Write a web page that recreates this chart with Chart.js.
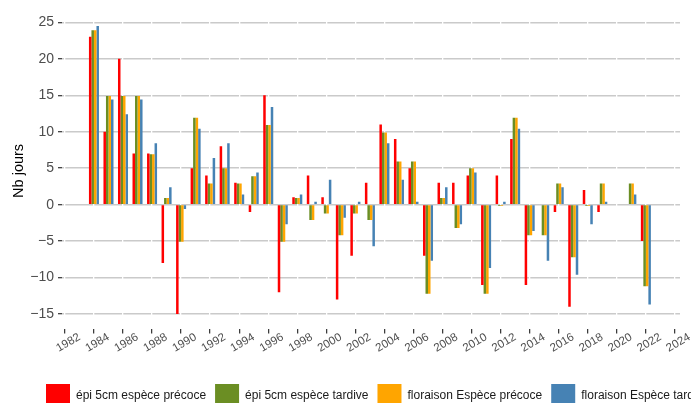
<!DOCTYPE html>
<html>
<head>
<meta charset="utf-8">
<script src="https://cdn.jsdelivr.net/npm/chart.js@4.4.1/dist/chart.umd.min.js"></script>
<style>
  html, body { margin: 0; background: #fff; }
  canvas { display: block; }
</style>
</head>
<body>
<canvas id="joursChart" width="691" height="403"></canvas>
<script>
const years = [1984, 1985, 1986, 1987, 1988, 1989, 1990, 1991, 1992, 1993,
               1994, 1995, 1996, 1997, 1998, 1999, 2000, 2001, 2002, 2003,
               2004, 2005, 2006, 2007, 2008, 2009, 2010, 2011, 2012, 2013,
               2014, 2015, 2016, 2017, 2018, 2019, 2020, 2021, 2022];

const epiPrecoce = [23, 10, 20, 7, 7, -8, -15, 5, 4, 8,
                    3, -1, 15, -12, 1, 4, 1, -13, -7, 3,
                    11, 9, 5, -7, 3, 3, 4, -11, 4, 9,
                    -11, -0.1, -1, -14, 2, -1, 0, -0.1, -5];
const epiTardive = [23.9, 14.9, 14.9, 14.9, 6.9, 0.9, -5.1, 11.9, 2.9, 5.0,
                    2.9, 3.9, 10.9, -5.1, 0.9, -2.1, -1.2, -4.2, -1.2, -2.1,
                    9.9, 5.9, 5.9, -12.2, 0.9, -3.2, 5.0, -12.2, -0.2, 11.9,
                    -4.2, -4.2, 2.9, -7.2, -0.2, 2.9, 0, 2.9, -11.2];
const florPrecoce = [23.9, 14.9, 14.9, 14.9, 6.9, 0.9, -5.1, 11.9, 2.9, 5.0,
                     2.9, 3.9, 10.9, -5.1, 0.9, -2.1, -1.2, -4.2, -1.2, -2.1,
                     9.9, 5.9, 5.9, -12.2, 0.9, -3.2, 5.0, -12.2, -0.2, 11.9,
                     -4.2, -4.2, 2.9, -7.2, -0.2, 2.9, 0, 2.9, -11.2];
const florTardive = [24.5, 14.4, 12.4, 14.4, 8.4, 2.4, -0.6, 10.4, 6.4, 8.4,
                     1.4, 4.4, 13.4, -2.7, 1.4, 0.4, 3.4, -1.8, 0.4, -5.7,
                     8.4, 3.4, 0.4, -7.7, 2.4, -2.7, 4.4, -8.7, 0.4, 10.4,
                     -3.6, -7.7, 2.4, -9.6, -2.7, 0.4, 0, 1.4, -13.7];

const seriesNames = ["épi 5cm espèce précoce", "épi 5cm espèce tardive",
                     "floraison Espèce précoce", "floraison Espèce tardive"];
const seriesColors = ["#FF0000", "#6B8E23", "#FFA500", "#4682B4"];

const yTicks = [-15, -10, -5, 0, 5, 10, 15, 20, 25];
const xTicks = [1982, 1984, 1986, 1988, 1990, 1992, 1994, 1996, 1998, 2000, 2002,
                2004, 2006, 2008, 2010, 2012, 2014, 2016, 2018, 2020, 2022, 2024];

const toPoints = vals => vals.map((v, i) => ({ x: years[i], y: v }));
const allSeries = [epiPrecoce, epiTardive, florPrecoce, florTardive];

Chart.defaults.font.family = "'Liberation Sans', Arial, sans-serif";

/* legend row under the axis, laid out left to right and cut by the canvas edge */
const bottomKeys = {
    id: "bottomKeys",
    afterDraw(chart) {
        const ctx = chart.ctx;
        ctx.save();
        ctx.font = "12px 'Liberation Sans', Arial, sans-serif";
        ctx.textBaseline = "middle";
        ctx.textAlign = "left";
        let x = 46;
        chart.data.datasets.forEach(ds => {
            ctx.fillStyle = ds.backgroundColor;
            ctx.fillRect(x, 384, 24, 20);
            ctx.fillStyle = "#1A1A1A";
            ctx.fillText(ds.label, x + 30, 396);
            x += 30 + ctx.measureText(ds.label).width + 9;
        });
        ctx.restore();
    }
};

new Chart(document.getElementById("joursChart"), {
    type: "bar",
    data: {
        datasets: allSeries.map((vals, i) => ({
            label: seriesNames[i],
            data: toPoints(vals),
            backgroundColor: seriesColors[i],
            borderWidth: 0,
            categoryPercentage: 0.69,
            barPercentage: 1.0
        }))
    },
    options: {
        responsive: false,
        animation: false,
        devicePixelRatio: 1,
        layout: { padding: { top: 10, right: 11, bottom: 0, left: 0 } },
        plugins: {
            legend: { display: false },
            tooltip: { enabled: false }
        },
        scales: {
            x: {
                type: "linear",
                min: 1981.8,
                max: 2024.35,
                offset: false,
                afterBuildTicks: s => { s.ticks = xTicks.map(v => ({ value: v })); },
                afterFit: s => { s.height = 73.6; },
                grid: {
                    offset: false,
                    z: -1,
                    color: "#FFFFFF",
                    lineWidth: 1.3,
                    tickColor: "#333333",
                    tickWidth: 1.2,
                    tickLength: 4
                },
                border: { display: false },
                ticks: {
                    autoSkip: false,
                    minRotation: 30,
                    maxRotation: 30,
                    labelOffset: 14.5,
                    padding: -3,
                    color: "#4D4D4D",
                    font: { size: 11.5 },
                    callback: v => String(v)
                }
            },
            y: {
                min: -17.1,
                max: 26.35,
                afterBuildTicks: s => { s.ticks = yTicks.map(v => ({ value: v })); },
                afterFit: s => { s.width = 62; },
                grid: {
                    z: -2,
                    color: "#CACACA",
                    lineWidth: 1.4,
                    tickColor: "#333333",
                    tickWidth: 1.2,
                    tickLength: 4
                },
                border: { display: false },
                ticks: {
                    padding: 4,
                    color: "#4D4D4D",
                    font: { size: 14 },
                    callback: v => String(v).replace("-", "\u2212")
                },
                title: {
                    display: true,
                    text: "Nb jours",
                    color: "#000000",
                    font: { size: 14.5 },
                    padding: { top: 10, bottom: 0 }
                }
            }
        }
    },
    plugins: [bottomKeys]
});
</script>
</body>
</html>
